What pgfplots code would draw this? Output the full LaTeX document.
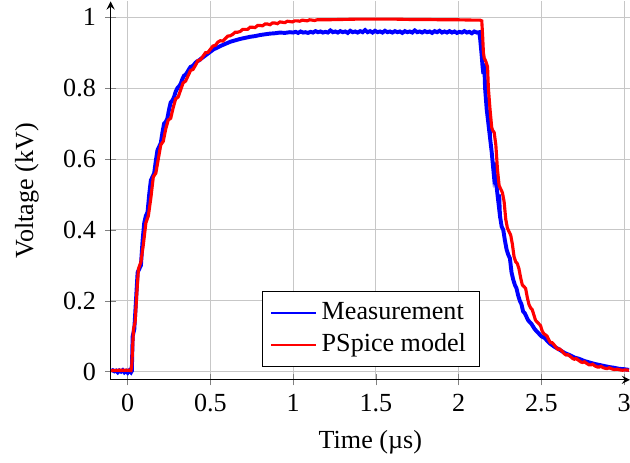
\documentclass[border=0pt]{standalone}
\usepackage{fontspec}
\setmainfont{Liberation Serif}
\usepackage{pgfplots}
\pgfplotsset{compat=1.18}
\begin{document}
\begin{tikzpicture}[trim axis right]
\begin{axis}[
  scale only axis,
  width=199pt, height=145pt,
  axis lines=left,
  xmin=-0.103, xmax=3.036,
  ymin=-0.023, ymax=1.045,
  xtick={0,0.5,1,1.5,2,2.5,3},
  ytick={0,0.2,0.4,0.6,0.8,1},
  grid=major,
  major grid style={thin, black!22},
  xlabel={Time (µs)},
  ylabel={Voltage (kV)},
  ylabel style={inner ysep=5.8pt},
  /pgf/number format/assume math mode=true,
  legend style={at={(0.2915,0.0345)}, anchor=south west, draw=black, fill=white},
  legend cell align=left,
]
\addlegendimage{blue, line width=0.6pt}
\addlegendentry{Measurement}
\addlegendimage{red, line width=0.6pt}
\addlegendentry{PSpice model}
\addplot[blue, line width=1.5pt, forget plot] coordinates {
(-0.10,0.002) (-0.09,0.004) (-0.08,0.001) (-0.07,0.003) (-0.06,-0.002) (-0.05,0.003)
(-0.04,0.000) (-0.03,0.004) (-0.02,-0.002) (-0.01,0.002) (0.00,-0.003) (0.01,0.003)
(0.02,-0.002) (0.025,0.002) (0.03,0.10) (0.04,0.12) (0.05,0.20) (0.06,0.28)
(0.07,0.29) (0.08,0.30) (0.09,0.37) (0.10,0.42) (0.11,0.44) (0.12,0.45)
(0.13,0.50) (0.14,0.54) (0.15,0.55) (0.16,0.56) (0.17,0.595) (0.18,0.625)
(0.19,0.635) (0.20,0.645) (0.21,0.675) (0.22,0.70) (0.23,0.705) (0.24,0.715)
(0.25,0.74) (0.26,0.76) (0.27,0.765) (0.28,0.775) (0.29,0.79) (0.30,0.80)
(0.31,0.805) (0.32,0.812) (0.33,0.825) (0.34,0.835) (0.35,0.838) (0.36,0.845)
(0.37,0.853) (0.38,0.860) (0.39,0.862) (0.40,0.866) (0.41,0.872) (0.42,0.876)
(0.43,0.878) (0.44,0.882) (0.46,0.889) (0.48,0.896) (0.50,0.903) (0.52,0.910)
(0.54,0.914) (0.56,0.919) (0.58,0.923) (0.60,0.927) (0.62,0.931) (0.65,0.935)
(0.68,0.939) (0.71,0.942) (0.74,0.945) (0.77,0.947) (0.80,0.950) (0.83,0.952)
(0.86,0.954) (0.89,0.955) (0.92,0.957) (0.95,0.956) (0.98,0.958) (1.00,0.957)
(1.015,0.959) (1.03,0.956) (1.045,0.960) (1.06,0.957) (1.075,0.958) (1.09,0.956)
(1.105,0.959) (1.12,0.957) (1.135,0.961) (1.15,0.958) (1.165,0.960) (1.18,0.957)
(1.195,0.959) (1.21,0.957) (1.225,0.963) (1.24,0.958) (1.255,0.960) (1.27,0.957)
(1.285,0.961) (1.30,0.958) (1.315,0.960) (1.33,0.956) (1.345,0.962) (1.36,0.958)
(1.375,0.960) (1.39,0.957) (1.405,0.961) (1.42,0.958) (1.435,0.964) (1.45,0.958)
(1.465,0.961) (1.48,0.957) (1.495,0.962) (1.51,0.958) (1.525,0.960) (1.54,0.957)
(1.555,0.962) (1.57,0.958) (1.585,0.960) (1.60,0.957) (1.615,0.961) (1.63,0.958)
(1.645,0.960) (1.66,0.956) (1.675,0.961) (1.69,0.958) (1.705,0.960) (1.72,0.957)
(1.735,0.963) (1.75,0.958) (1.765,0.960) (1.78,0.957) (1.795,0.961) (1.81,0.958)
(1.825,0.960) (1.84,0.956) (1.855,0.961) (1.87,0.958) (1.885,0.962) (1.90,0.957)
(1.915,0.960) (1.93,0.957) (1.945,0.961) (1.96,0.957) (1.975,0.960) (1.99,0.956)
(2.005,0.959) (2.02,0.957) (2.035,0.961) (2.05,0.957) (2.065,0.959) (2.08,0.955)
(2.095,0.960) (2.11,0.957) (2.125,0.958)
(2.13,0.94) (2.14,0.89) (2.145,0.86) (2.15,0.84) (2.155,0.87) (2.16,0.80)
(2.17,0.74) (2.18,0.70) (2.185,0.72) (2.19,0.66) (2.195,0.64) (2.20,0.62)
(2.21,0.57) (2.215,0.59) (2.22,0.545) (2.23,0.52) (2.24,0.48) (2.245,0.50)
(2.25,0.44) (2.26,0.41) (2.27,0.40) (2.28,0.37) (2.29,0.345) (2.30,0.33)
(2.31,0.32) (2.32,0.28) (2.33,0.26) (2.34,0.245) (2.35,0.235) (2.36,0.215)
(2.37,0.20) (2.38,0.19) (2.39,0.17) (2.40,0.165) (2.42,0.145) (2.44,0.135)
(2.46,0.12) (2.48,0.11) (2.50,0.10) (2.52,0.095) (2.55,0.08) (2.58,0.07)
(2.61,0.062) (2.64,0.053) (2.67,0.047) (2.70,0.040) (2.73,0.036) (2.76,0.030)
(2.79,0.026) (2.82,0.022) (2.85,0.019) (2.88,0.016) (2.91,0.013) (2.94,0.011)
(2.97,0.008) (3.00,0.007) (3.03,0.005)
};
\addplot[red, line width=1.2pt, forget plot] coordinates {
(-0.10,0.003) (-0.05,0.004) (0.0,0.004) (0.02,0.003) (0.025,0.02) (0.035,0.12)
(0.045,0.14) (0.055,0.22) (0.065,0.29) (0.08,0.31) (0.095,0.36) (0.11,0.42)
(0.125,0.44) (0.14,0.49) (0.155,0.55) (0.17,0.56) (0.185,0.60) (0.20,0.64)
(0.215,0.65) (0.23,0.685) (0.245,0.71) (0.26,0.715) (0.275,0.745) (0.29,0.77)
(0.305,0.775) (0.32,0.795) (0.335,0.815) (0.35,0.82) (0.365,0.835) (0.38,0.85)
(0.395,0.853) (0.41,0.865) (0.425,0.878) (0.44,0.880) (0.455,0.890) (0.47,0.900)
(0.485,0.901) (0.50,0.910) (0.515,0.919) (0.53,0.921) (0.545,0.930) (0.56,0.934)
(0.575,0.933) (0.59,0.940) (0.605,0.947) (0.62,0.948) (0.635,0.952) (0.65,0.958)
(0.665,0.958) (0.68,0.960) (0.695,0.966) (0.71,0.966) (0.725,0.966) (0.74,0.972)
(0.755,0.972) (0.77,0.971) (0.785,0.977) (0.80,0.977) (0.815,0.976) (0.83,0.981)
(0.845,0.981) (0.86,0.979) (0.875,0.984) (0.89,0.984) (0.905,0.982) (0.92,0.987)
(0.935,0.986) (0.95,0.985) (0.965,0.989) (0.98,0.988) (0.995,0.987) (1.01,0.990)
(1.025,0.990) (1.04,0.989) (1.055,0.992) (1.07,0.991) (1.085,0.990) (1.10,0.993)
(1.115,0.992) (1.13,0.991) (1.145,0.993) (1.16,0.993) (1.2,0.993) (1.3,0.994)
(1.4,0.995) (1.5,0.995) (1.6,0.995) (1.7,0.994) (1.8,0.994) (1.9,0.993)
(2.0,0.993) (2.1,0.992) (2.13,0.992) (2.14,0.990) (2.145,0.95) (2.15,0.90)
(2.155,0.885) (2.165,0.875) (2.175,0.86) (2.18,0.80) (2.19,0.74) (2.20,0.69)
(2.205,0.682) (2.215,0.675) (2.225,0.64) (2.235,0.57) (2.245,0.525) (2.255,0.515)
(2.265,0.505) (2.275,0.48) (2.285,0.43) (2.295,0.405) (2.305,0.395) (2.315,0.385)
(2.325,0.36) (2.335,0.325) (2.345,0.31) (2.355,0.305) (2.365,0.29) (2.375,0.265)
(2.385,0.245) (2.395,0.24) (2.405,0.235) (2.415,0.21) (2.425,0.19) (2.435,0.18)
(2.445,0.175) (2.455,0.16) (2.465,0.145) (2.475,0.14) (2.485,0.135) (2.495,0.13)
(2.505,0.115) (2.515,0.107) (2.525,0.104) (2.535,0.10) (2.545,0.09) (2.555,0.082)
(2.565,0.082) (2.575,0.077) (2.59,0.068) (2.60,0.063) (2.61,0.064) (2.625,0.058)
(2.64,0.050) (2.65,0.047) (2.66,0.048) (2.675,0.043) (2.69,0.037) (2.70,0.035)
(2.71,0.037) (2.725,0.032) (2.74,0.027) (2.75,0.026) (2.76,0.028) (2.775,0.023)
(2.79,0.019) (2.80,0.019) (2.81,0.021) (2.825,0.016) (2.84,0.013) (2.85,0.013)
(2.86,0.015) (2.875,0.011) (2.89,0.009) (2.90,0.009) (2.91,0.011) (2.925,0.008)
(2.94,0.006) (2.96,0.007) (2.975,0.005) (2.99,0.004) (3.01,0.005) (3.03,0.004)
};
\end{axis}
\end{tikzpicture}
\end{document}
